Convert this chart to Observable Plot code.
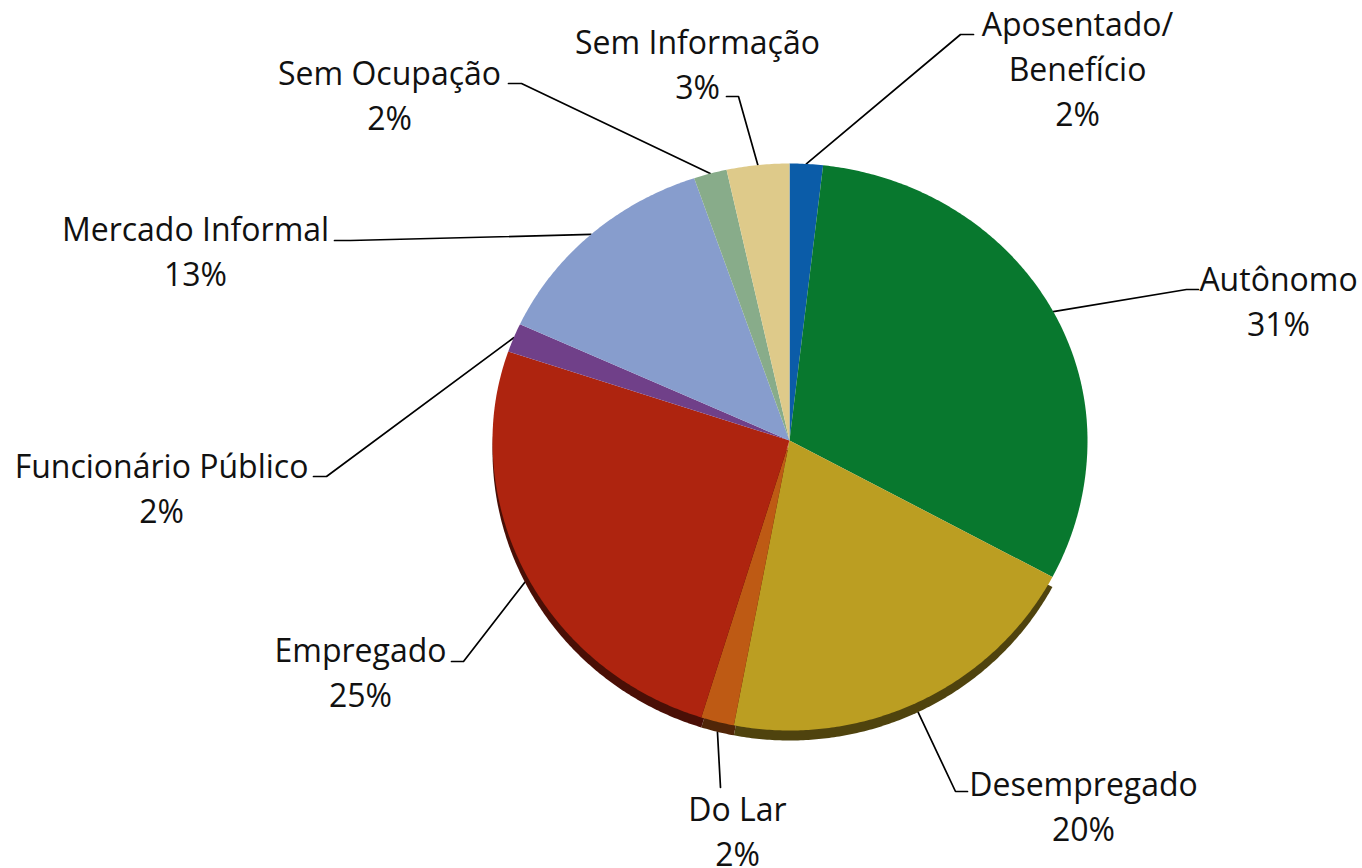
<!DOCTYPE html>
<html><head><meta charset="utf-8">
<script src="https://cdn.jsdelivr.net/npm/d3@7"></script>
<script src="https://cdn.jsdelivr.net/npm/@observablehq/plot@0.6"></script>
<style>body{margin:0;background:#fff;} #chart svg{display:block;}</style>
</head><body><div id="chart"></div>
<script>
// ---- data ----
const categories = ["Aposentado/\nBenefício","Autônomo","Desempregado","Do Lar","Empregado","Funcionário Público","Mercado Informal","Sem Ocupação","Sem Informação"];
const values = [1.8, 31.0, 20.2, 1.8, 25.4, 1.7, 12.9, 1.8, 3.4];
const colors = ["#0B5CA8","#08782E","#BB9E22","#BE5A14","#AE240F","#704089","#879DCD","#88AC8A","#DECA8A"];

// ---- label layout (px relative to pie centre, y up): elbow x/y, end of horizontal x, text centre x, text top y ----
const elbowX = [171, 397, 166, -69, -326, -463, -439, -268, -51];
const elbowY = [406, 151, -351, -347, -221, -36, 200, 357, 344];
const endX   = [184, 409, 178, -69, -338, -476, -455, -281, -63];
const textX  = [288, 489, 294, -52, -429, -628, -594, -400, -92];
const textY  = [436, 181, -324, -349, -190, -6, 231, 387, 418];

const W = 1362, H = 868, CX = 789, CY = 440;
const RX_R = 298, RX_L = 297, RY_T = 277, RY_B = 290, DEPTH = 10;

function pt(a, depth = 0) {
  const s = Math.sin(a), c = Math.cos(a);
  return [s * (s > 0 ? RX_R : RX_L), c * (c > 0 ? RY_T : RY_B) - depth];
}

const rows = categories.map((name, i) => ({name, value: values[i], color: colors[i], i}));
const arcs = d3.pie().sort(null).value(d => d.value)(rows);

function slicePoints(arc, depth) {
  const pts = [[0, -depth]];
  const n = Math.max(2, Math.ceil((arc.endAngle - arc.startAngle) / (Math.PI / 360)));
  for (let k = 0; k <= n; k++) {
    const a = arc.startAngle + (arc.endAngle - arc.startAngle) * k / n;
    pts.push(pt(a, depth));
  }
  return pts;
}

const lowerArcs = arcs.filter(arc => Math.cos((arc.startAngle + arc.endAngle) / 2) < 0);
const rimMarks = lowerArcs.map(arc => Plot.line(slicePoints(arc, DEPTH), {
  x: d => d[0], y: d => d[1], curve: "linear-closed",
  fill: d3.color(arc.data.color).darker(2.4).formatHex(), stroke: "none"
}));
const sliceMarks = arcs.map(arc => Plot.line(slicePoints(arc, 0), {
  x: d => d[0], y: d => d[1], curve: "linear-closed",
  fill: arc.data.color, stroke: "none"
}));

const leaders = [];
arcs.forEach(arc => {
  const i = arc.data.i;
  const mid = (arc.startAngle + arc.endAngle) / 2;
  const p = pt(mid, Math.cos(mid) < 0 ? DEPTH : 0);
  leaders.push({k: i, x: p[0], y: p[1]});
  leaders.push({k: i, x: elbowX[i], y: elbowY[i]});
  leaders.push({k: i, x: endX[i], y: elbowY[i]});
});

const labels = rows.map(r => ({
  text: r.name + "\n" + Math.round(r.value) + "%",
  x: textX[r.i], y: textY[r.i]
}));

const chart = Plot.plot({
  width: W, height: H,
  marginTop: 0, marginRight: 0, marginBottom: 0, marginLeft: 0,
  x: {domain: [-CX, W - CX], axis: null},
  y: {domain: [-(H - CY), CY], axis: null},
  style: {background: "#fff", overflow: "visible"},
  marks: [
    Plot.line(leaders, {x: "x", y: "y", z: "k", stroke: "#000", strokeWidth: 1.7, curve: "linear"}),
    ...rimMarks,
    ...sliceMarks,
    Plot.text(labels, {
      x: "x", y: "y", text: "text", textAnchor: "middle", lineAnchor: "top",
      lineHeight: 1.4, fontSize: 32, fontFamily: "Open Sans", fill: "#111"
    })
  ]
});
document.getElementById("chart").appendChild(chart);
</script>
</body></html>
